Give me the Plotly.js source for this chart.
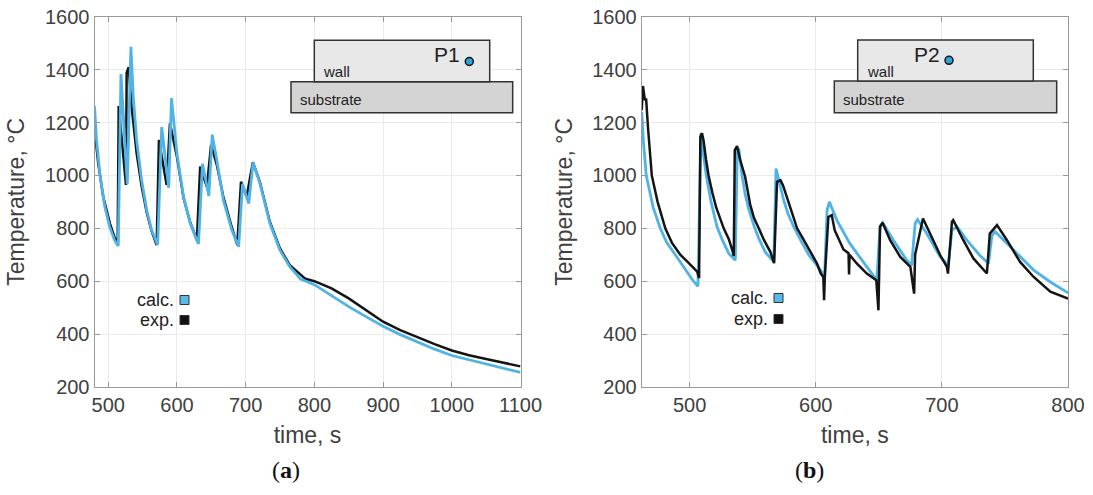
<!DOCTYPE html>
<html>
<head>
<meta charset="utf-8">
<script src="https://cdn.plot.ly/plotly-3.0.1.min.js"></script>
<style>
  html, body { margin: 0; padding: 0; background: #fff; }
  #chart { width: 1093px; height: 495px; }
</style>
</head>
<body>
<div id="chart"></div>
<script>
// (a) point P1 in the wall
var timeA_calc = [480, 483, 488, 495, 502, 509, 514.6, 518.5, 527.7, 533, 536.4, 541.3, 548.5, 556, 563, 571.9,
  577.8, 588, 592, 600, 609.6, 619.3, 631.3, 637.2, 646.4, 651.3, 658, 667.5, 679.7, 689.8,
  695.4, 704.5, 710.8, 720.7, 735.2, 749.7, 764.2, 780, 800, 825, 850, 875, 900, 925, 950, 975,
  1000, 1025, 1050, 1075, 1100];
var tempA_calc = [1262, 1134, 1000, 882, 806, 756, 733, 1383, 967, 1486, 1298, 1134, 983, 869, 794, 737,
  1183, 953, 1292, 1083, 919, 819, 741, 1044, 922, 1154, 1058, 907, 794, 730,
  968, 893, 1049, 970, 819, 718, 655, 608, 587, 544, 504, 466, 430, 398, 370, 343,
  319, 303, 287, 271, 255];

var timeA_exp = [480, 485.4, 492.7, 502.5, 509.7, 513.7, 515.2, 525.8, 526.8, 529.7, 534, 541.3, 548.5, 556, 563, 570.5,
  573.8, 585, 589.8, 600, 609.6, 619.3, 629, 633.8, 643.5, 649.7, 658, 667.5, 679.7, 687.8,
  693.2, 701.4, 710.5, 720.7, 735.2, 749.7, 764.2, 780, 787, 800, 825, 850, 875, 900, 925, 950, 975,
  1000, 1025, 1050, 1075, 1100];
var tempA_exp = [1178, 1046, 919, 818, 762, 737, 1262, 964, 1388, 1409, 1260, 1084, 960, 860, 790, 737,
  1134, 964, 1197, 1070, 915, 822, 756, 1033, 957, 1115, 1040, 919, 805, 737,
  976, 919, 1050, 975, 825, 725, 661, 624, 609, 600, 573, 535, 490, 447, 415, 387, 362,
  338, 320, 306, 291, 278];

// (b) point P2 in the wall
var timeB_calc = [462, 463.5, 465.6, 468, 471, 476.7, 482, 488.6, 495, 503, 506.6,
  508.5, 509, 510, 511.5, 513.2, 517, 521.7, 526, 531, 536.2,
  537.8, 539, 541.5, 544, 547, 551.3, 555, 560, 566.7,
  568.5, 571, 574.6, 578, 582.5, 588, 594.4, 601, 607,
  609, 610.8, 616.7, 627, 640.5, 648.4, 651, 653, 661.6, 672, 676,
  678.8, 680.7, 688, 698.7, 705, 708, 712, 719.8, 730, 737,
  739.7, 742.3, 751.6, 762, 772.8, 786, 800];
var tempB_calc = [1240, 1120, 1000, 940, 880, 800, 745, 700, 655, 600, 581,
  1140, 1161, 1110, 1050, 1000, 900, 806, 755, 705, 679,
  1096, 1102, 1000, 930, 870, 806, 760, 710, 673,
  1026, 975, 906, 855, 806, 755, 700, 660, 620,
  869, 900, 831, 743, 654, 604, 806, 821, 755, 680, 660,
  818, 833, 780, 692, 660, 793, 806, 755, 698, 667,
  774, 787, 743, 692, 642, 597, 556];

var timeB_exp = [462, 463, 464.5, 465.5, 467, 470, 474.6, 480.7, 486, 492.6, 499, 506, 507.5,
  508.5, 509.8, 511, 513, 515, 518, 521, 527, 531, 534, 535,
  535.8, 537.6, 540, 544, 548, 551, 554.8, 559, 564, 567,
  569.3, 572, 574, 577, 580, 585.2, 590, 597, 601, 604, 606, 606.6, 607.2,
  610, 612.7, 615, 622, 626, 626.4, 626.8, 632.5, 640.5, 648, 649.7,
  651, 653, 659, 667, 675, 678, 678.8,
  685, 690.7, 698.7, 704, 704.8,
  708, 709, 717, 725, 735.7,
  738, 743.7, 751.6, 762, 772.8, 786, 800];
var tempB_exp = [1247, 1338, 1285, 1290, 1180, 1000, 900, 800, 745, 700, 670, 636, 612,
  1146, 1159, 1133, 1060, 1000, 935, 880, 800, 760, 715, 695,
  1096, 1111, 1060, 995, 890, 840, 800, 755, 711, 668,
  976, 982, 963, 920, 875, 800, 760, 700, 667, 629, 616, 528, 616,
  843, 850, 793, 720, 706, 625, 700, 667, 629, 604, 490,
  806, 821, 755, 692, 654, 553, 700,
  837, 780, 698, 654, 629,
  825, 831, 755, 686, 629,
  780, 812, 755, 673, 616, 560, 534];

var xTicksA = [500, 600, 700, 800, 900, 1000, 1100];
var xTicksB = [500, 600, 700, 800];
var yTicks = [200, 400, 600, 800, 1000, 1200, 1400, 1600];

var calcColor = '#4fb3e6';
var expColor = '#141414';

var W = 1093, H = 495;
function px(x) { return x / W; }
function py(y) { return 1 - y / H; }

var data = [
  { x: timeA_exp, y: tempA_exp, xaxis: 'x', yaxis: 'y', type: 'scatter', mode: 'lines',
    line: { color: expColor, width: 2.5 }, name: 'exp.' },
  { x: timeA_calc, y: tempA_calc, xaxis: 'x', yaxis: 'y', type: 'scatter', mode: 'lines',
    line: { color: calcColor, width: 2.8 }, name: 'calc.' },
  { x: timeB_calc, y: tempB_calc, xaxis: 'x2', yaxis: 'y2', type: 'scatter', mode: 'lines',
    line: { color: calcColor, width: 2.8 }, name: 'calc.' },
  { x: timeB_exp, y: tempB_exp, xaxis: 'x2', yaxis: 'y2', type: 'scatter', mode: 'lines',
    line: { color: expColor, width: 2.5 }, name: 'exp.' }
];

var tickFont = { family: 'Liberation Sans, Arial, sans-serif', size: 20, color: '#404040' };
var titleFont = { family: 'Liberation Sans, Arial, sans-serif', size: 23, color: '#404040' };

function xAxis(range, ticks, domain, anchor) {
  return {
    domain: domain, anchor: anchor, range: range,
    tickmode: 'array', tickvals: ticks,
    ticks: 'inside', ticklen: 5, tickcolor: '#999',
    showline: true, linecolor: '#999', linewidth: 1, mirror: 'ticks',
    showgrid: true, gridcolor: '#ebebeb', zeroline: false,
    tickfont: tickFont,
    title: { text: 'time, s', font: titleFont, standoff: 11 }
  };
}
function yAxis(domain, anchor) {
  return {
    domain: domain, anchor: anchor, range: [200, 1600],
    tickmode: 'array', tickvals: yTicks,
    ticks: 'inside', ticklen: 5, tickcolor: '#999',
    showline: true, linecolor: '#999', linewidth: 1, mirror: 'ticks',
    showgrid: true, gridcolor: '#ebebeb', zeroline: false,
    tickfont: tickFont,
    title: { text: 'Temperature, °C', font: titleFont, standoff: 13 }
  };
}

var yDom = [py(387), py(16.7)];

var shapes = [];
var annotations = [];

// inset sketch: wall on substrate, measuring point
function inset(wall, sub, dot, label, labelX) {
  shapes.push({ type: 'rect', xref: 'paper', yref: 'paper',
    x0: px(sub[0]), x1: px(sub[1]), y0: py(sub[3]), y1: py(sub[2]),
    fillcolor: '#d4d4d4', line: { color: '#333', width: 1.5 } });
  shapes.push({ type: 'rect', xref: 'paper', yref: 'paper',
    x0: px(wall[0]), x1: px(wall[1]), y0: py(wall[3]), y1: py(wall[2]),
    fillcolor: '#e8e8e8', line: { color: '#333', width: 1.5 } });
  shapes.push({ type: 'circle', xref: 'paper', yref: 'paper',
    x0: px(dot[0] - 4), x1: px(dot[0] + 4), y0: py(dot[1] + 4), y1: py(dot[1] - 4),
    fillcolor: '#2aa6dc', line: { color: '#111', width: 1.5 } });
  annotations.push({ xref: 'paper', yref: 'paper', x: px(wall[0] + 7), y: py(wall[3] - 10),
    xanchor: 'left', yanchor: 'middle', showarrow: false, text: 'wall',
    font: { family: 'Liberation Sans, Arial, sans-serif', size: 15, color: '#222' } });
  annotations.push({ xref: 'paper', yref: 'paper', x: px(sub[0] + 7), y: py(sub[3] - 13),
    xanchor: 'left', yanchor: 'middle', showarrow: false, text: 'substrate',
    font: { family: 'Liberation Sans, Arial, sans-serif', size: 15, color: '#222' } });
  annotations.push({ xref: 'paper', yref: 'paper', x: px(labelX), y: py(54),
    xanchor: 'right', yanchor: 'middle', showarrow: false, text: label,
    font: { family: 'Liberation Sans, Arial, sans-serif', size: 21, color: '#222' } });
}
inset([314.3, 489.7, 40.3, 81.7], [291, 512.7, 81.7, 112.7], [469.3, 61.5], 'P1', 462);
inset([857.7, 1033.3, 40, 81], [834.3, 1056.7, 81, 112.7], [949, 60.3], 'P2', 942);

// hand-made legend: label then a small square
function legend(xRight, yCalc, yExp) {
  [[yCalc, 'calc.', '#5ab9ea'], [yExp, 'exp.', '#111']].forEach(function (r) {
    annotations.push({ xref: 'paper', yref: 'paper', x: px(xRight), y: py(r[0]),
      xanchor: 'right', yanchor: 'middle', showarrow: false, text: r[1],
      font: { family: 'Liberation Sans, Arial, sans-serif', size: 18, color: '#222' } });
    shapes.push({ type: 'rect', xref: 'paper', yref: 'paper',
      x0: px(xRight + 4), x1: px(xRight + 13), y0: py(r[0] + 4.5), y1: py(r[0] - 4.5),
      fillcolor: r[2], line: { color: '#333', width: 1 } });
  });
}
legend(176, 300, 320);
legend(770, 298, 319);

annotations.push({ xref: 'paper', yref: 'paper', x: px(270), y: py(470), yanchor: 'middle', showarrow: false,
  text: '(<b>a</b>)', font: { family: 'Liberation Serif, Times New Roman, serif', size: 24, color: '#111' } });
annotations.push({ xref: 'paper', yref: 'paper', x: px(826), y: py(470), yanchor: 'middle', showarrow: false,
  text: '(<b>b</b>)', font: { family: 'Liberation Serif, Times New Roman, serif', size: 24, color: '#111' } });

var layout = {
  width: W, height: H,
  margin: { l: 0, r: 0, t: 0, b: 0 },
  paper_bgcolor: '#fff', plot_bgcolor: '#fff',
  showlegend: false,
  xaxis: xAxis([480, 1100], xTicksA, [px(94.5), px(520.5)], 'y'),
  yaxis: yAxis(yDom, 'x'),
  xaxis2: xAxis([462, 800], xTicksB, [px(641.7), px(1068)], 'y2'),
  yaxis2: yAxis(yDom, 'x2'),
  shapes: shapes,
  annotations: annotations
};

var config = { responsive: false, displayModeBar: false };
Plotly.newPlot('chart', data, layout, config);
</script>
</body>
</html>
